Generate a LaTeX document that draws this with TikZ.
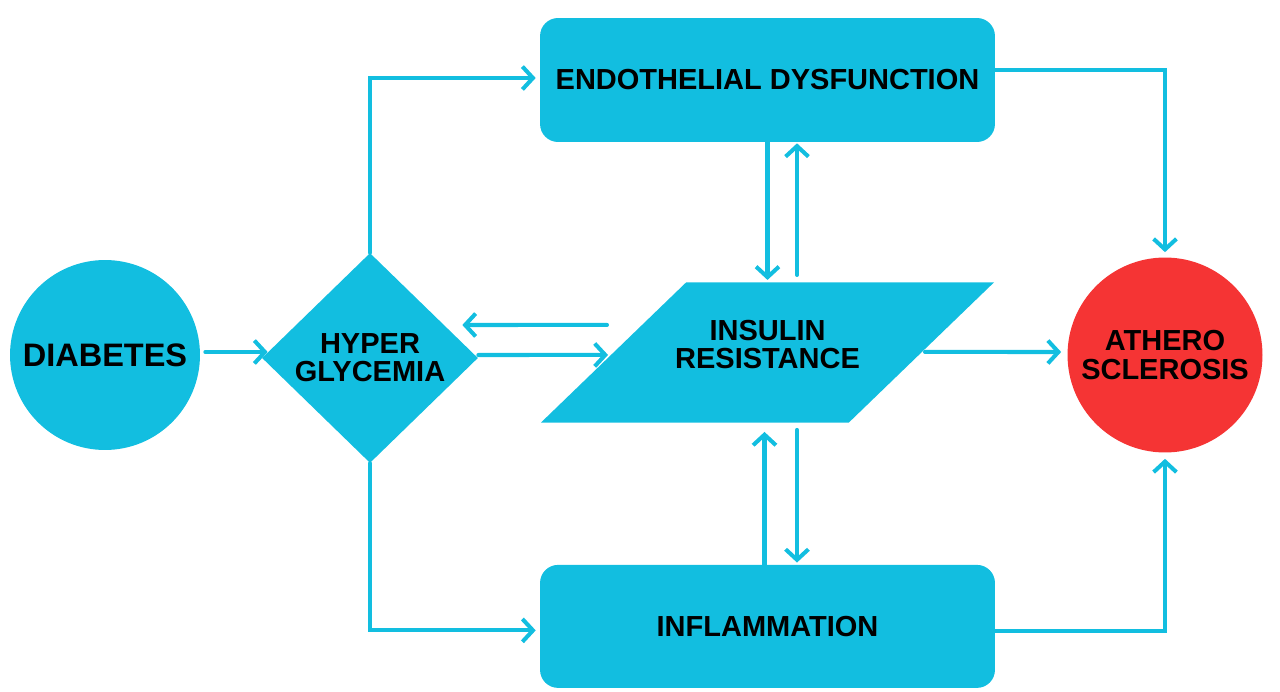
\documentclass[tikz,border=0pt]{standalone}
\usepackage{fontspec}
\setmainfont{Liberation Sans}
\usetikzlibrary{arrows.meta,positioning,shapes.geometric,calc}
\definecolor{skyfill}{RGB}{18,190,224}
\definecolor{redfill}{RGB}{245,52,52}

\begin{document}
\begin{tikzpicture}[x=0.02cm,y=-0.02cm,on grid,
  every node/.style={font=\bfseries\fontsize{16.5}{16}\selectfont,align=center,text=black,inner sep=0pt},
  blob/.style={circle,fill=skyfill,minimum size=3.8cm},
  box/.style={rectangle,rounded corners=0.36cm,fill=skyfill,minimum width=9.1cm,minimum height=2.48cm},
  link/.style={draw=skyfill,line width=2.3pt,line cap=round,-{Straight Barb[length=6pt,width=13pt]}}]
  \useasboundingbox (0,0) rectangle (1280,692);

  \node[blob,font=\bfseries\fontsize{18.5}{18}\selectfont] (diabetes) at (105,355) {DIABETES};
  \node[diamond,fill=skyfill,minimum width=4.32cm,minimum height=4.2cm] (hyper) at (370,358) {HYPER\\GLYCEMIA};
  \node[box]            (endo)    at (767.5,80)          {ENDOTHELIAL DYSFUNCTION};
  \node[trapezium,trapezium left angle=44,trapezium right angle=136,
        fill=skyfill,inner ysep=0.76cm,inner xsep=-0.22cm]
                        (insulin) [below=5.45cm of endo]  {INSULIN\\RESISTANCE\\[-7pt]\mbox{}};
  \node[box,minimum height=2.46cm] (inflam) [below=10.93cm of endo] {INFLAMMATION};
  \node[blob,fill=redfill,minimum size=3.9cm] (athero) at (1165,355) {ATHERO\\SCLEROSIS};

  % diabetes -> hyperglycemia -> the three boxes
  \draw[link] ([shift={(5,-3)}]diabetes.east) -- ([shift={(6,-6)}]hyper.west);
  \draw[link] (hyper.north) |- ([shift={(-4,-2)}]endo.west);
  \draw[link] (hyper.south) |- ([shift={(-4,4)}]inflam.west);
  \draw[link] ([shift={(-160.5,-27.5)}]insulin.center) -- ([shift={(-16,-33)}]hyper.east);
  \draw[link] ([shift={(0,-3)}]hyper.east) -- ([shift={(-159.5,2.5)}]insulin.center);

  % insulin resistance <-> endothelial / inflammation
  \draw[link] (endo.south) -- ([shift={(0,-72.5)}]insulin.center);
  \draw[link] ([shift={(29.5,-77.5)}]insulin.center) -- ([shift={(29.5,1)}]endo.south);
  \draw[link] ([shift={(-3,0)}]inflam.north) -- ([shift={(-3,79.5)}]insulin.center);
  \draw[link] ([shift={(29.5,77.5)}]insulin.center) -- ([shift={(29.5,-2)}]inflam.north);

  % to atherosclerosis
  \draw[link] ([shift={(157.5,-0.5)}]insulin.center) -- ([shift={(-6,-3)}]athero.west);
  \draw[link] ([shift={(0,-10)}]endo.east) -| ([shift={(0,-5)}]athero.north);
  \draw[link] ([shift={(0,5)}]inflam.east) -| ([shift={(0,6)}]athero.south);
\end{tikzpicture}
\end{document}
